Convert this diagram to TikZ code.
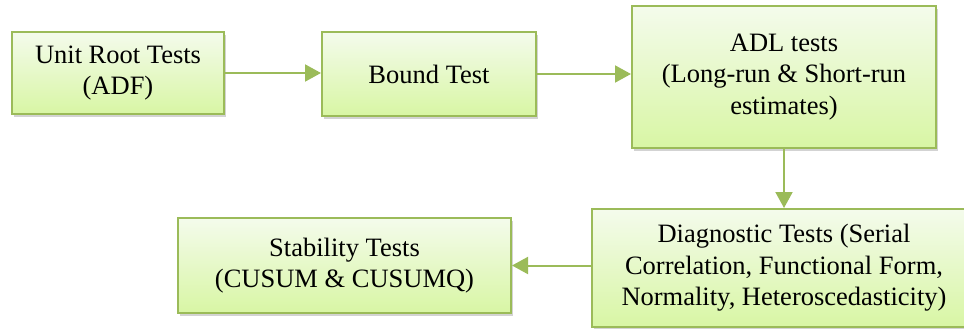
\documentclass[tikz,border=0pt]{standalone}
\usepackage{fontspec}
\setmainfont{Liberation Serif}
\usetikzlibrary{arrows.meta,shadows}
\definecolor{boxgreen}{HTML}{9BBB59}
\definecolor{filltop}{HTML}{F4FBEC}
\definecolor{fillbottom}{HTML}{D8F6A4}

\begin{document}
\begin{tikzpicture}[x=1pt,y=-1pt,>=Triangle,
    stagebox/.style={draw=boxgreen,line width=2pt,top color=filltop,bottom color=fillbottom,
      drop shadow={opacity=.35,shadow xshift=2pt,shadow yshift=-3pt},
      align=center,inner sep=0pt,font=\fontsize{26.5}{31.5}\selectfont},
    flow/.style={boxgreen,line width=2pt,-{Triangle[length=16pt,width=17pt]}}]
  \useasboundingbox[clip] (0,0) rectangle (964,329);
  % top row
  \node[stagebox,minimum width=212pt,minimum height=82pt] (unitroot) at (118,73)
    {Unit Root Tests\\(ADF)};
  \node[stagebox,minimum width=214pt,minimum height=83pt] (bound) at (429,74)
    {Bound Test};
  \node[stagebox,minimum width=304pt,minimum height=142pt] (adl) at (784,77)
    {ADL tests\\(Long-run \& Short-run\\estimates)};
  % bottom row
  \node[stagebox,minimum width=384pt,minimum height=118pt] (diag) at (784,268)
    {Diagnostic Tests (Serial\\Correlation, Functional Form,\\Normality, Heteroscedasticity)};
  \node[stagebox,minimum width=333pt,minimum height=95pt] (stab) at (344.5,265.5)
    {Stability Tests\\(CUSUM \& CUSUMQ)};
  % connectors
  \draw[flow] (unitroot.east) -- (bound.west |- unitroot.east);
  \draw[flow] (bound.east) -- (adl.west |- bound.east);
  \draw[flow] (adl.south) -- (adl.south |- diag.north);
  \draw[flow] (diag.west |- stab.east) -- (stab.east);
\end{tikzpicture}
\end{document}
